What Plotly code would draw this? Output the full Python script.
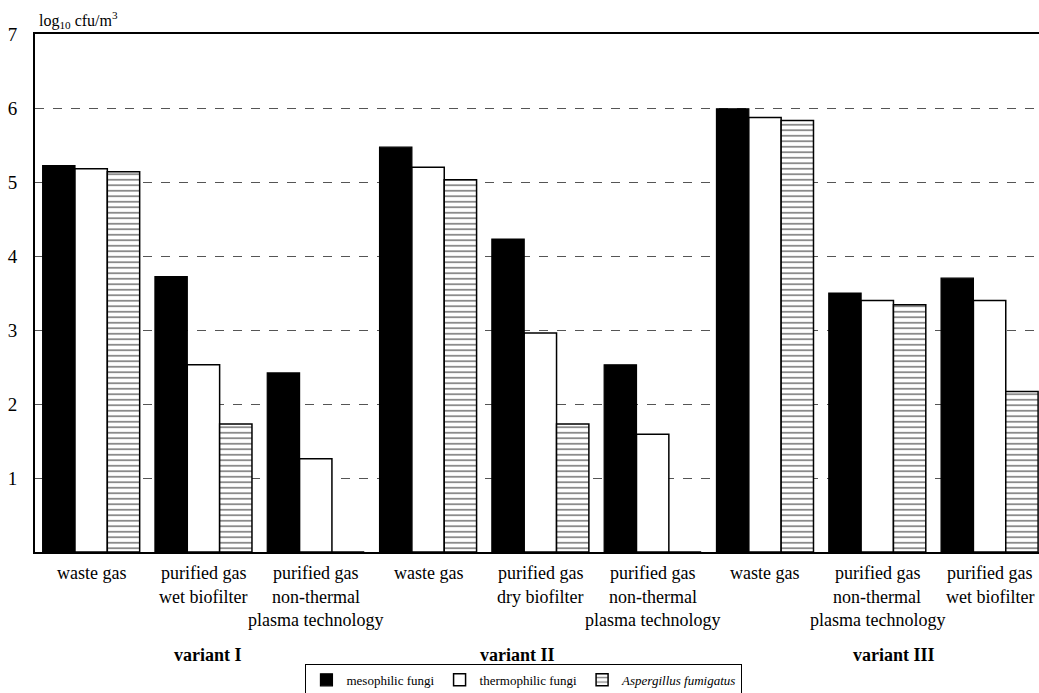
import plotly.graph_objects as go

# ---- data ----
categories = [
    ["waste gas"],
    ["purified gas", "wet biofilter"],
    ["purified gas", "non-thermal", "plasma technology"],
    ["waste gas"],
    ["purified gas", "dry biofilter"],
    ["purified gas", "non-thermal", "plasma technology"],
    ["waste gas"],
    ["purified gas", "non-thermal", "plasma technology"],
    ["purified gas", "wet biofilter"],
]
variants = ["variant I", "variant II", "variant III"]
variant_pos = [1.04, 3.8, 7.15]

mesophilic = [5.22, 3.72, 2.42, 5.47, 4.23, 2.53, 5.99, 3.50, 3.70]
thermophilic = [5.18, 2.53, 1.26, 5.20, 2.96, 1.59, 5.87, 3.40, 3.40]
aspergillus = [5.14, 1.73, 0.0, 5.03, 1.73, 0.0, 5.83, 3.34, 2.17]

y_ticks = [1, 2, 3, 4, 5, 6, 7]

FONT = "Liberation Serif, Times New Roman, serif"
x = list(range(len(categories)))

fig = go.Figure()
fig.add_trace(go.Bar(
    x=x, y=mesophilic, name="mesophilic fungi",
    marker=dict(color="black", line=dict(color="black", width=1.2)),
))
fig.add_trace(go.Bar(
    x=x, y=thermophilic, name="thermophilic fungi",
    marker=dict(color="white", line=dict(color="black", width=1.5)),
))
fig.add_trace(go.Bar(
    x=x, y=aspergillus, name="<i>Aspergillus fumigatus</i>",
    marker=dict(color="white", line=dict(color="black", width=1.5),
                pattern=dict(shape="-", size=5.5, solidity=0.3,
                             fgcolor="black", bgcolor="white", fillmode="overlay")),
))

annotations = []
line_shifts = [-21, -45, -68]
for i, lines in enumerate(categories):
    for j, t in enumerate(lines):
        annotations.append(dict(
            x=i, y=0, xref="x", yref="paper", text=t, showarrow=False,
            yshift=line_shifts[j], yanchor="middle", xanchor="center",
            font=dict(family=FONT, size=18, color="black")))
for v, p in zip(variants, variant_pos):
    annotations.append(dict(
        x=p, y=0, xref="x", yref="paper", text="<b>" + v + "</b>",
        showarrow=False, yshift=-103, yanchor="middle", xanchor="center",
        font=dict(family=FONT, size=18, color="black")))
annotations.append(dict(
    x=0, y=1, xref="paper", yref="paper", text="log<sub>10</sub> cfu/m<sup>3</sup>",
    showarrow=False, xanchor="left", yanchor="bottom", xshift=2, yshift=1,
    font=dict(family=FONT, size=16, color="black")))

fig.update_layout(
    width=1039, height=693,
    margin=dict(l=35, r=0, t=34, b=141, autoexpand=False),
    paper_bgcolor="white", plot_bgcolor="white",
    barmode="group", bargap=0.136, bargroupgap=0,
    font=dict(family=FONT, color="black"),
    annotations=annotations,
    legend=dict(
        orientation="h", x=0.487, xanchor="center", y=-0.216, yanchor="top",
        bordercolor="black", borderwidth=1, font=dict(family=FONT, size=13),
        itemwidth=30, tracegroupgap=0,
    ),
    xaxis=dict(
        range=[-0.5, 8.44], showgrid=False, zeroline=False, automargin=False,
        showline=True, linecolor="black", linewidth=2, mirror=True,
        showticklabels=False, ticks="",
    ),
    yaxis=dict(
        range=[0, 7], tickvals=y_ticks, ticktext=[str(v) for v in y_ticks],
        showgrid=True, gridcolor="#555555", griddash="dash", gridwidth=1,
        zeroline=False, showline=True, linecolor="black", linewidth=2,
        ticks="", ticklabelstandoff=12, automargin=False,
        tickfont=dict(family=FONT, size=19, color="black"),
    ),
)

fig.write_html("out.html", config={"displayModeBar": False},
               post_script="document.body.style.margin='0';")
